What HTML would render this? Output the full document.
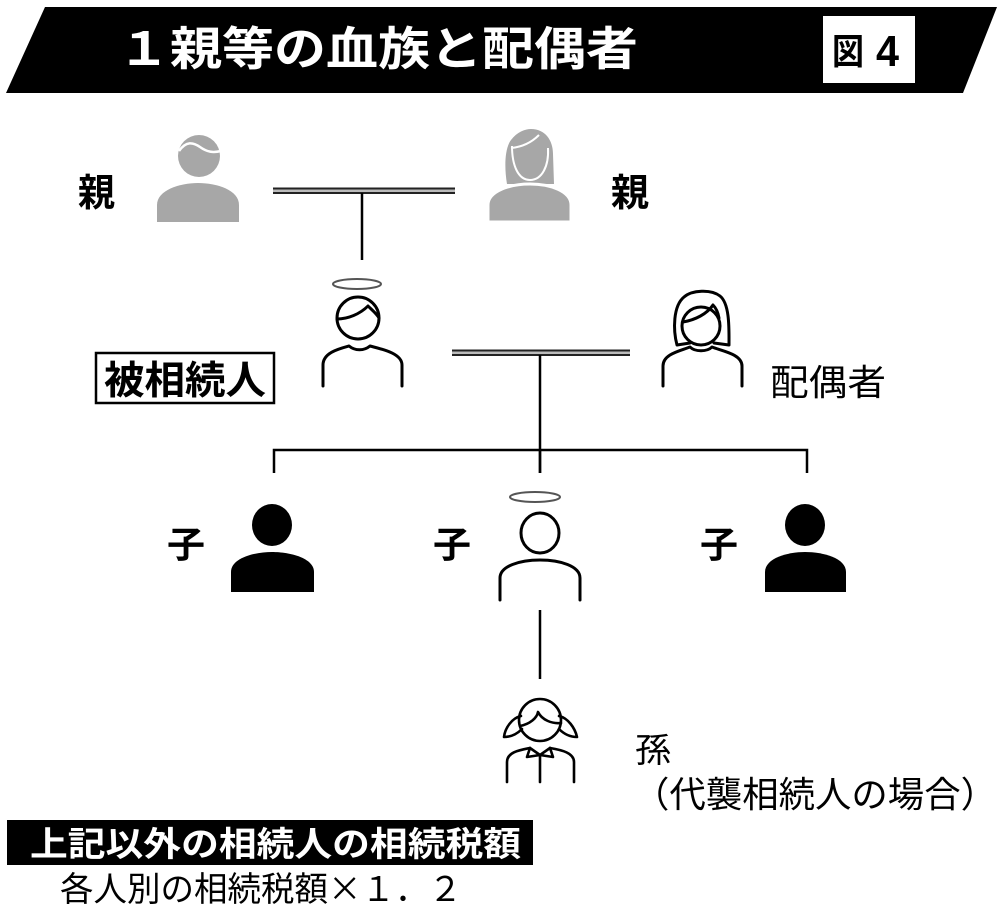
<!DOCTYPE html>
<html><head><meta charset="utf-8"><style>
html,body{margin:0;padding:0;background:#fff;}
svg{display:block;}
text{font-family:"Liberation Sans","Noto Sans CJK JP",sans-serif;}
</style></head><body>
<svg width="1000" height="908" viewBox="0 0 1000 908" xmlns="http://www.w3.org/2000/svg">
<rect width="1000" height="908" fill="#fff"/>
<!-- header -->
<polygon points="45,7 997,7 963,93 6,93" fill="#000"/>
<text x="118" y="65" font-size="46" font-weight="bold" fill="#fff" textLength="520" lengthAdjust="spacingAndGlyphs">１親等の血族と配偶者</text>
<rect x="823" y="16" width="92" height="67" fill="#fff"/>
<text x="832" y="64" font-size="36" font-weight="bold" fill="#000" textLength="32" lengthAdjust="spacingAndGlyphs">図</text>
<text x="876" y="66" font-size="44" font-weight="bold" fill="#000" textLength="23" lengthAdjust="spacingAndGlyphs">4</text>

<!-- parents -->
<text x="78" y="206" font-size="38" font-weight="bold" textLength="37" lengthAdjust="spacingAndGlyphs">親</text>
<text x="611" y="206" font-size="38" font-weight="bold" textLength="38" lengthAdjust="spacingAndGlyphs">親</text>
<!-- grey male -->
<g fill="#a7a7a7">
<circle cx="199" cy="156" r="21"/>
<path d="M157,222 L157,205 C157,190 180,183 198,183 C217,183 239,190 239,205 L239,222 Z"/>
</g>
<path d="M179,151 C186,141 193,142 200,147 C207,152 213,153 221,151" fill="none" stroke="#fff" stroke-width="2.5"/>
<!-- grey female -->
<g fill="#a7a7a7">
<path d="M507,184 C504,166 505,148 511,140 C517,132 525,129 531,129 C545,129 553,140 553,154 L554,184 Z"/>
</g>
<path d="M512,146 C512,165 518,180 530,180 C542,180 549,166 548,148" fill="none" stroke="#fff" stroke-width="2"/>
<path d="M511,148 C522,147 532,142 539,135" fill="none" stroke="#fff" stroke-width="2"/>
<path d="M488,222 L488,205 C488,191 510,184 530,184 C550,184 571,191 571,205 L571,222 Z" fill="#a7a7a7" stroke="#fff" stroke-width="3"/>

<!-- parent double line -->
<rect x="273" y="188" width="182" height="6" fill="#bbb"/>
<line x1="273" y1="188.5" x2="455" y2="188.5" stroke="#222" stroke-width="2"/>
<line x1="273" y1="193" x2="455" y2="193" stroke="#222" stroke-width="2"/>
<line x1="362" y1="193" x2="362" y2="260" stroke="#000" stroke-width="2.5"/>

<!-- deceased -->
<ellipse cx="357" cy="284" rx="24" ry="5" fill="none" stroke="#555" stroke-width="2"/>
<g fill="none" stroke="#000" stroke-width="3" stroke-linecap="round" stroke-linejoin="round">
<circle cx="358" cy="318" r="21"/>
<path d="M337,319 C348,319 360,314 368,306 C372,310 377,314 379,318"/>
<path d="M323,386 L323,365 C323,353 338,349 349,346 C355,351 364,351 370,346 C381,349 402,353 402,365 L402,386"/>
</g>
<rect x="96" y="353" width="178" height="50" fill="none" stroke="#000" stroke-width="2.5"/>
<text x="104" y="394" font-size="39" font-weight="bold" textLength="162" lengthAdjust="spacingAndGlyphs">被相続人</text>

<!-- spouse double line -->
<rect x="452" y="350" width="178" height="6" fill="#bbb"/>
<line x1="452" y1="350.5" x2="630" y2="350.5" stroke="#222" stroke-width="2"/>
<line x1="452" y1="355" x2="630" y2="355" stroke="#222" stroke-width="2"/>
<line x1="540" y1="355" x2="540" y2="473" stroke="#000" stroke-width="2.5"/>

<!-- spouse -->
<g fill="none" stroke="#000" stroke-width="3" stroke-linecap="round" stroke-linejoin="round">
<circle cx="701" cy="326" r="19"/>
<path d="M690,343 L677,345 C673,330 673,306 684,297 C692,290 711,289 720,296 C730,304 729,330 729,345 L714,343"/>
<path d="M683,322 C695,320 707,314 713,305 C716,308 718,312 719,318"/>
<path d="M663,386 L663,366 C663,354 680,351 690,347 C695,352 707,352 712,347 C722,351 742,354 742,366 L742,386"/>
</g>
<text x="770" y="395" font-size="36" textLength="116" lengthAdjust="spacingAndGlyphs">配偶者</text>

<!-- children bracket -->
<g stroke="#000" stroke-width="2.5" fill="none">
<polyline points="274,473 274,450 807,450 807,473"/>
<line x1="540" y1="450" x2="540" y2="473"/>
</g>

<!-- children -->
<text x="167" y="557" font-size="36" font-weight="bold" textLength="38" lengthAdjust="spacingAndGlyphs">子</text>
<text x="433" y="557" font-size="36" font-weight="bold" textLength="38" lengthAdjust="spacingAndGlyphs">子</text>
<text x="700" y="557" font-size="36" font-weight="bold" textLength="38" lengthAdjust="spacingAndGlyphs">子</text>
<g fill="#000">
<ellipse cx="272" cy="525" rx="20" ry="21"/>
<path d="M231,592 L231,572 C231,558 255,552 272,552 C290,552 314,558 314,572 L314,592 Z"/>
<ellipse cx="805" cy="525" rx="20" ry="21"/>
<path d="M765,592 L765,572 C765,558 788,552 805,552 C823,552 846,558 846,572 L846,592 Z"/>
</g>
<ellipse cx="535" cy="497" rx="25" ry="5" fill="none" stroke="#555" stroke-width="2"/>
<g fill="none" stroke="#000" stroke-width="3" stroke-linecap="round">
<ellipse cx="540" cy="533" rx="19" ry="20"/>
<path d="M500,600 L500,578 C500,566 520,560 540,560 C560,560 580,566 580,578 L580,600"/>
</g>

<!-- grandchild -->
<line x1="540" y1="610" x2="540" y2="679" stroke="#000" stroke-width="2.5"/>
<g fill="none" stroke="#000" stroke-width="2.6" stroke-linecap="round" stroke-linejoin="round">
<circle cx="540" cy="720" r="21"/>
<path d="M520,726 C530,724 537,718 538,712 C542,720 552,724 561,723"/>
<path d="M521,716 C512,718 505,728 504,737 C512,737 518,733 522,729"/>
<path d="M559,716 C568,718 575,728 577,737 C569,737 563,733 559,729"/>
<path d="M507,782 L507,762 C507,752 520,750 530,748 M550,748 C562,750 574,753 574,762 L574,782"/>
<path d="M530,748 L527,757 L540,755 L553,757 L550,748 M530,748 L540,755 L550,748"/>
<path d="M540,755 L540,782"/>
</g>
<text x="635" y="762" font-size="34" textLength="36" lengthAdjust="spacingAndGlyphs">孫</text>
<text x="633" y="807" font-size="36" textLength="364" lengthAdjust="spacingAndGlyphs">（代襲相続人の場合）</text>

<!-- bottom -->
<rect x="7" y="820" width="526" height="45" fill="#000"/>
<text x="30" y="856" font-size="34" font-weight="bold" fill="#fff" textLength="491" lengthAdjust="spacingAndGlyphs">上記以外の相続人の相続税額</text>
<text x="60" y="901" font-size="34" style="font-family:'Noto Sans CJK JP',sans-serif" textLength="402" lengthAdjust="spacingAndGlyphs">各人別の相続税額×１．２</text>
</svg>
</body></html>
